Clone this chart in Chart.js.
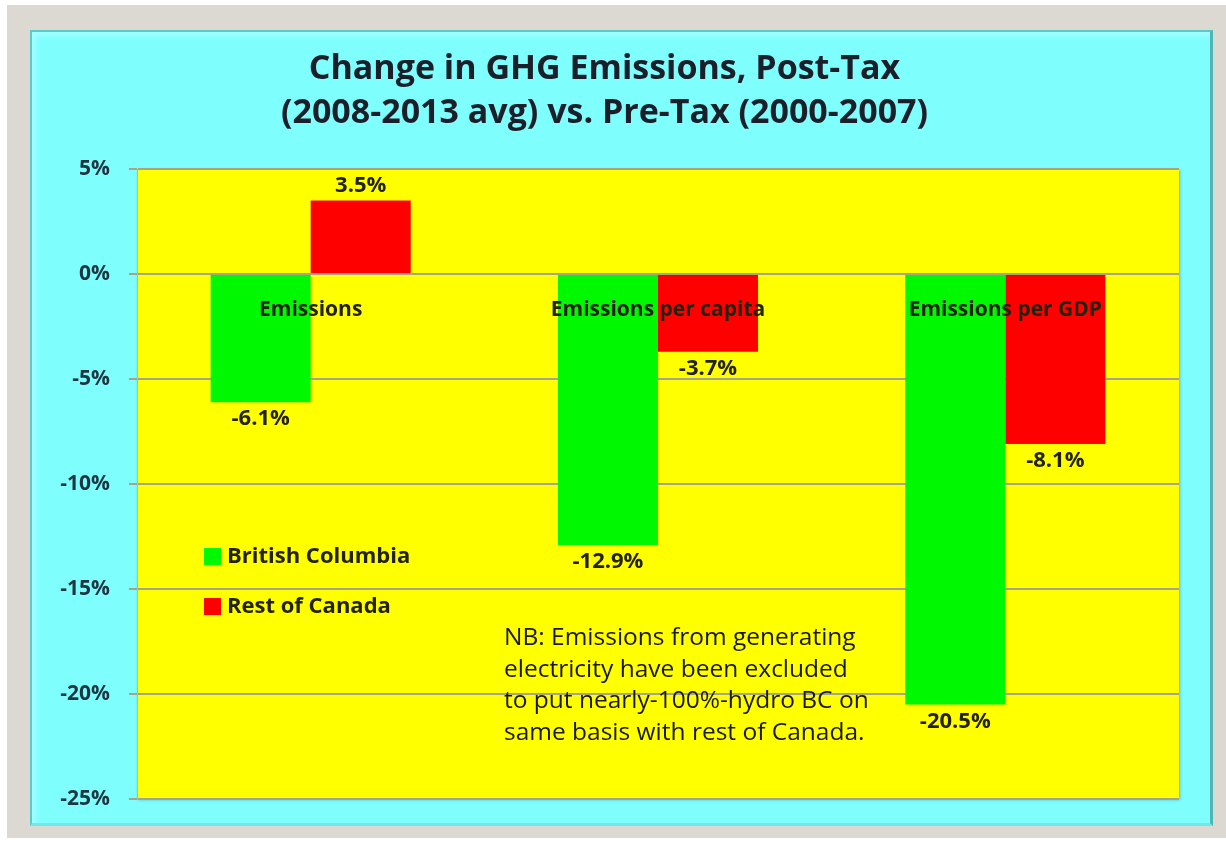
<!DOCTYPE html>
<html>
<head>
<meta charset="utf-8">
<script src="https://cdn.jsdelivr.net/npm/chart.js@4.4.1/dist/chart.umd.min.js"></script>
<style>
  html, body { margin: 0; padding: 0; background: #ffffff; }
  body { width: 1226px; height: 844px; position: relative; overflow: hidden; }
  #frame { position: absolute; left: 7px; top: 5px; width: 1219px; height: 833px; background: #dcd9d3; }
  #panel { position: absolute; left: 30px; top: 30px; width: 1178px; height: 791px; background: #7ffefe;
           border-left: 2px solid #5cc9c9; border-top: 2px solid #5cc9c9; border-right: 3px solid #4fb5b5; border-bottom: 3px solid #6fe9e9;
           box-shadow: inset 6px 6px 6px -3px rgba(255,255,255,0.35); }
  #wrap { position: absolute; left: 0; top: 0; width: 1226px; height: 844px; }
</style>
</head>
<body>
<div id="frame"></div>
<div id="panel"></div>
<div id="wrap"><canvas id="c" width="1226" height="844"></canvas></div>
<script>
const categories = ['Emissions', 'Emissions per capita', 'Emissions per GDP'];
const seriesNames = ['British Columbia', 'Rest of Canada'];
const bcValues = [-6.1, -12.9, -20.5];
const restValues = [3.5, -3.7, -8.1];
const yMin = -25, yMax = 5, yStep = 5;
const titleLines = ['Change in GHG Emissions, Post-Tax', '(2008-2013 avg) vs. Pre-Tax (2000-2007)'];
const noteLines = ['NB: Emissions from generating', 'electricity have been excluded', 'to put nearly-100%-hydro BC on', 'same basis with rest of Canada.'];

const FONT = '"Open Sans", Lato, sans-serif';
const TEXT = '#23230f';

const plotBg = {
  id: 'plotBg',
  beforeDraw(chart) {
    const { ctx, chartArea: a } = chart;
    ctx.save();
    ctx.shadowColor = 'rgba(0,0,0,0.25)';
    ctx.shadowBlur = 3; ctx.shadowOffsetX = 1; ctx.shadowOffsetY = 1;
    ctx.fillStyle = '#ffff00';
    ctx.fillRect(a.left, a.top, a.right - a.left, a.bottom - a.top);
    ctx.restore();
  }
};

const labelsPlugin = {
  id: 'labelsPlugin',
  afterDatasetsDraw(chart) {
    const { ctx, chartArea: a } = chart;
    const xs = chart.scales.x, ys = chart.scales.y;
    ctx.save();
    ctx.textAlign = 'center';
    ctx.textBaseline = 'middle';
    ctx.fillStyle = TEXT;
    // value labels
    ctx.font = 'bold 22px ' + FONT;
    chart.data.datasets.forEach((ds, di) => {
      const meta = chart.getDatasetMeta(di);
      meta.data.forEach((bar, i) => {
        const v = ds.data[i];
        const y = v >= 0 ? bar.y - 15 : bar.y + 17;
        ctx.fillText(v.toFixed(1) + '%', bar.x, y);
      });
    });
    // category labels at the zero line
    ctx.font = 'bold 21px ' + FONT;
    const y0 = ys.getPixelForValue(0);
    categories.forEach((c, i) => {
      ctx.fillText(c, xs.getPixelForTick(i), y0 + 36);
    });
    // legend
    ctx.textAlign = 'left';
    ctx.font = 'bold 22px ' + FONT;
    chart.data.datasets.forEach((ds, di) => {
      const ly = a.top + 387 + di * 50;
      const lx = a.left + 67;
      ctx.fillStyle = ds.backgroundColor;
      ctx.fillRect(lx, ly - 8, 17, 17);
      ctx.fillStyle = TEXT;
      ctx.fillText(ds.label, lx + 23, ly + 1);
    });
    // note
    ctx.font = '24.5px ' + FONT;
    ctx.fillStyle = '#1a1a10';
    noteLines.forEach((t, i) => {
      ctx.fillText(t, a.left + 367, a.top + 469 + i * 31.7);
    });
    ctx.restore();
  }
};

new Chart(document.getElementById('c'), {
  type: 'bar',
  data: {
    labels: categories,
    datasets: [
      { label: seriesNames[0], data: bcValues, backgroundColor: '#00f800' },
      { label: seriesNames[1], data: restValues, backgroundColor: '#ff0000' }
    ]
  },
  options: {
    responsive: false,
    animation: false,
    devicePixelRatio: 1,
    categoryPercentage: 0.576,
    barPercentage: 1.0,
    layout: { padding: { left: 30, right: 47, top: 0, bottom: 45 } },
    plugins: {
      legend: { display: false },
      tooltip: { enabled: false },
      title: {
        display: true,
        text: titleLines,
        color: '#1b1f2a',
        font: { family: FONT, size: 34, weight: 'bold', lineHeight: 1.28 },
        padding: { top: 48, bottom: 34 }
      }
    },
    scales: {
      x: { display: false },
      y: {
        min: yMin, max: yMax,
        afterFit(s) { s.width = 107; },
        ticks: {
          stepSize: yStep,
          padding: 19,
          color: '#1d3640',
          font: { family: FONT, size: 21, weight: 'bold' },
          callback: v => v + '%'
        },
        grid: { color: '#a5a48a', lineWidth: 2, tickLength: 8, drawTicks: true },
        border: { display: true, color: '#b8b8a0', width: 1 }
      }
    }
  },
  plugins: [plotBg, labelsPlugin]
});
</script>
</body>
</html>
